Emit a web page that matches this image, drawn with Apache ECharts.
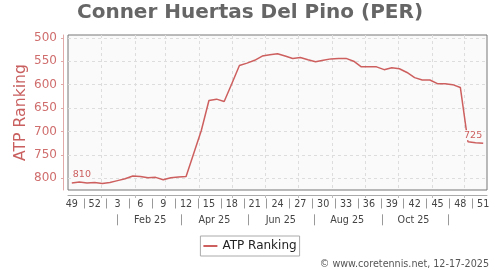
<!DOCTYPE html>
<html><head><meta charset="utf-8">
<script src="https://cdn.jsdelivr.net/npm/echarts@6/dist/echarts.min.js"></script>
<style>html,body{margin:0;padding:0;background:#fff}#c{width:500px;height:270px}</style>
</head><body><div id="c"></div>
<script>
const titleText = 'Conner Huertas Del Pino (PER)';
const seriesName = 'ATP Ranking';
const copyright = '\u00a9 www.coretennis.net, 12-17-2025';
// ISO weeks, 2024-W49 .. 2025-W51
const weeks = [49,50,51,52,1,2,3,4,5,6,7,8,9,10,11,12,13,14,15,16,17,18,19,20,21,22,23,24,25,26,27,28,29,30,31,32,33,34,35,36,37,38,39,40,41,42,43,44,45,46,47,48,49,50,51];
const ranking = [810,808,810,809,811,809,805,801,795,796,799,798,803,799,797,796,747,698,634,631,636,598,559,554,548,539,536,534,539,544,542,547,551,548,545,544,544,550,562,562,562,568,564,566,574,585,590,590,598,598,600,606,722,724,725];
const monthLabels = ['Feb 25','Apr 25','Jun 25','Aug 25','Oct 25'];
const firstWeekStart = Date.UTC(2024, 11, 2);

const DAY = 86400000;
const days = [];
for (let i = 0; i < weeks.length * 7; i++) days.push(new Date(firstWeekStart + i * DAY).toISOString().slice(0, 10));
const ymd = s => s.split('-').map(Number);
const labelFor = v => { const p = ymd(v); return p[1] % 2 === 0 ? monthLabels[p[1] / 2 - 1] : undefined; };
const isMonthStart = (i, v) => ymd(v)[2] === 1;
const isWeekSep = (i) => i % 7 === 0 && (i / 7) % 3 === 2;
const isPeriodSep = (i, v) => { const p = ymd(v); return p[2] === 16 && p[1] % 2 === 1; };
const isPeriodLabel = (i, v) => { const p = ymd(v); return p[2] === 15 && labelFor(v) !== undefined; };

const lineColor = '#cd5f5f';
const font = 'DejaVu Sans';
const seriesData = ranking.map((v, i) => {
  if (i === 0 || i === ranking.length - 1) return { value: v, label: { show: true, align: i === 0 ? 'left' : 'right' } };
  return v;
});
const hidden = { show: false };
const chart = echarts.init(document.getElementById('c'), null, { renderer: 'canvas' });
chart.setOption({
  animation: false,
  textStyle: { fontFamily: font },
  title: [
    { text: titleText, left: 'center', top: 3, padding: 0, textStyle: { fontSize: 20, fontWeight: 'bold', color: '#666', fontFamily: font } },
    { text: copyright, right: 11, top: 259, padding: 0, textStyle: { fontSize: 9.6, fontWeight: 'normal', color: '#555', fontFamily: font } }
  ],
  legend: {
    data: [seriesName], left: 'center', top: 236, padding: [4, 3], itemWidth: 14, itemHeight: 2, icon: 'rect',
    borderColor: '#aaa', borderWidth: 1, selectedMode: false,
    textStyle: { fontSize: 12, color: '#222', fontFamily: font }
  },
  grid: { left: 68, top: 35, width: 419, height: 155, show: true, backgroundColor: '#fafafa', borderColor: '#777', borderWidth: 1, containLabel: false, outerBoundsMode: 'none' },
  xAxis: [
    { type: 'category', data: weeks, position: 'bottom', offset: 5,
      axisLine: { show: true, onZero: false, lineStyle: { color: '#aaa' } }, axisTick: hidden,
      axisLabel: { interval: (i) => i % 3 === 0, margin: 4, fontSize: 9.6, color: '#444', fontFamily: font },
      splitLine: hidden },
    { type: 'category', data: days, position: 'bottom', offset: 5,
      axisLine: { show: false, onZero: false }, axisLabel: hidden,
      axisTick: { show: true, alignWithLabel: true, interval: isMonthStart, length: 3, lineStyle: { color: '#bbb' } },
      splitLine: { show: true, alignWithLabel: true, interval: isMonthStart, lineStyle: { color: '#ddd', type: [3, 3] } } },
    { type: 'category', data: days, position: 'bottom', offset: 8.5,
      axisLine: { show: false, onZero: false }, axisLabel: hidden, splitLine: hidden,
      axisTick: { show: true, alignWithLabel: true, interval: isWeekSep, length: 10, lineStyle: { color: '#999' } } },
    { type: 'category', data: days, position: 'bottom', offset: 24.3,
      axisLine: { show: false, onZero: false }, splitLine: hidden,
      axisTick: { show: true, alignWithLabel: true, interval: isPeriodSep, length: 11, lineStyle: { color: '#999' } },
      axisLabel: { interval: isPeriodLabel, margin: 1, fontSize: 9.6, color: '#444', fontFamily: font, formatter: v => labelFor(v) || '' } }
  ],
  yAxis: {
    type: 'value', inverse: true, min: 494, max: 825, position: 'left', offset: 5,
    name: seriesName, nameLocation: 'middle', nameGap: 34, nameRotate: 90, nameMoveOverlap: false,
    nameTextStyle: { color: '#c95f5f', fontSize: 15.7, fontFamily: font },
    axisLine: { show: true, onZero: false, lineStyle: { color: '#e2a9a9' } },
    axisTick: { show: true, length: 2, lineStyle: { color: '#e2a9a9' } },
    axisLabel: { margin: 6, fontSize: 12, color: '#d06d6d', showMinLabel: false, showMaxLabel: false, fontFamily: font },
    splitLine: { show: true, showMinLine: false, showMaxLine: false, lineStyle: { color: '#ddd', type: [3, 3] } }
  },
  series: [{
    type: 'line', name: seriesName, data: seriesData, xAxisIndex: 0, yAxisIndex: 0,
    symbol: 'circle', symbolSize: 0, showSymbol: true, showAllSymbol: true, silent: true,
    lineStyle: { color: lineColor, width: 1.5 }, itemStyle: { color: lineColor },
    label: { show: false, position: 'top', distance: 3, fontSize: 9.5, color: lineColor, backgroundColor: '#fafafa', padding: [0, 1], fontFamily: font },
    emphasis: { disabled: true }
  }]
});
</script></body></html>
